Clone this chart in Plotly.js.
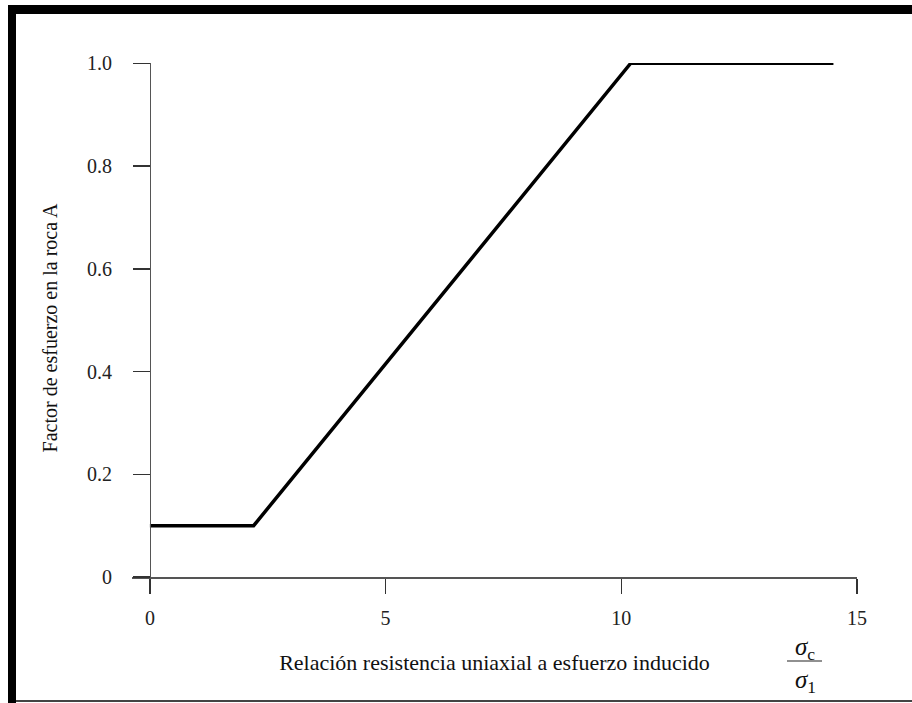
<!DOCTYPE html>
<html>
<head>
<meta charset="utf-8">
<script src="https://cdn.plot.ly/plotly-3.0.1.min.js"></script>
<style>
  html, body { margin: 0; padding: 0; background: #ffffff; }
  #chart { width: 912px; height: 703px; }
</style>
</head>
<body>
<div id="chart"></div>
<script>
// ---- data ----
const ratio = [0, 2.2, 10.2, 14.5];          // σc / σ1
const factorA = [0.1, 0.1, 1.0, 1.0];        // Factor de esfuerzo en la roca A
const xTickVals = [0, 5, 10, 15];
const xTickText = ['0', '5', '10', '15'];
const yTickVals = [0, 0.2, 0.4, 0.6, 0.8, 1.0];
const yTickText = ['0', '0.2', '0.4', '0.6', '0.8', '1.0'];
const xTitle = 'Relación resistencia uniaxial a esfuerzo inducido';
const yTitle = 'Factor de esfuerzo en la roca A';

// ---- layout geometry ----
const W = 912, H = 703;
const mL = 132, mR = 55, mT = 63, mB = 110;
const xRange = [-0.38, 15];
const yRange = [-0.031, 1.0005];
const pw = W - mL - mR, ph = H - mT - mB;
const px = v => (v - mL) / pw;          // pixel x -> paper
const py = v => (H - mB - v) / ph;      // pixel y -> paper

const serif = '"Liberation Serif", "Times New Roman", serif';

const trace = {
  x: ratio, y: factorA, type: 'scatter', mode: 'lines',
  line: { color: '#000000', width: 3.5 },
  hoverinfo: 'skip', showlegend: false
};

const layout = {
  width: W, height: H,
  margin: { l: mL, r: mR, t: mT, b: mB, pad: 0 },
  paper_bgcolor: '#ffffff', plot_bgcolor: '#ffffff',
  font: { family: serif, color: '#222222', size: 20 },
  showlegend: false,
  xaxis: {
    range: xRange, anchor: 'free',
    position: (0 - yRange[0]) / (yRange[1] - yRange[0]),
    showgrid: false, zeroline: false,
    showline: true, linecolor: '#555555', linewidth: 1.5,
    ticks: 'outside', ticklen: 15, tickwidth: 1.5, tickcolor: '#333333',
    tickmode: 'array', tickvals: xTickVals, ticktext: xTickText,
    ticklabelstandoff: 7,
    tickfont: { family: serif, size: 20, color: '#222222' },
    title: { text: xTitle, font: { family: serif, size: 22, color: '#111111' }, standoff: 27 }
  },
  yaxis: {
    range: yRange, anchor: 'free',
    position: (0 - xRange[0]) / (xRange[1] - xRange[0]),
    showgrid: false, zeroline: false,
    showline: true, linecolor: '#555555', linewidth: 1.5,
    ticks: 'outside', ticklen: 17, tickwidth: 1.5, tickcolor: '#333333',
    tickmode: 'array', tickvals: yTickVals, ticktext: yTickText,
    ticklabelstandoff: 17,
    tickfont: { family: serif, size: 20, color: '#222222' },
    title: { text: yTitle, font: { family: serif, size: 20, color: '#111111' }, standoff: 22 }
  },
  shapes: [
    // black frame (top, left) and thin bottom edge
    { type: 'rect', xref: 'paper', yref: 'paper', x0: px(8), x1: px(912), y0: py(14), y1: py(5),
      fillcolor: '#000000', line: { width: 0 }, layer: 'above' },
    { type: 'rect', xref: 'paper', yref: 'paper', x0: px(8), x1: px(16), y0: py(703), y1: py(5),
      fillcolor: '#000000', line: { width: 0 }, layer: 'above' },
    { type: 'line', xref: 'paper', yref: 'paper', x0: px(16), x1: px(912), y0: py(701), y1: py(701),
      line: { color: '#444444', width: 2 } },
    // fraction bar for σc / σ1
    { type: 'line', xref: 'paper', yref: 'paper', x0: px(787), x1: px(822), y0: py(661), y1: py(661),
      line: { color: '#222222', width: 1.2 } }
  ],
  annotations: [
    { xref: 'paper', yref: 'paper', x: px(805), y: py(648), xanchor: 'center', yanchor: 'middle',
      text: '<i>σ</i><sub>c</sub>', showarrow: false, font: { family: serif, size: 25, color: '#111111' } },
    { xref: 'paper', yref: 'paper', x: px(805), y: py(681), xanchor: 'center', yanchor: 'middle',
      text: '<i>σ</i><sub>1</sub>', showarrow: false, font: { family: serif, size: 25, color: '#111111' } }
  ]
};

Plotly.newPlot('chart', [trace], layout, { staticPlot: true, displayModeBar: false });
</script>
</body>
</html>
